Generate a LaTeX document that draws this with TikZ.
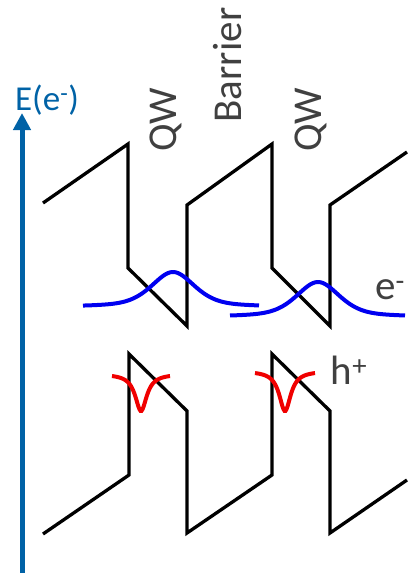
\documentclass[tikz,border=0pt]{standalone}
\usepackage{fontspec}
\setmainfont{Carlito}
\usepackage{tikz}
\usetikzlibrary{arrows.meta}
\definecolor{AxisBlue}  {HTML}{0062A6}
\definecolor{LabelGrey} {HTML}{404040}
\definecolor{WaveBlue}  {HTML}{0000F0}
\definecolor{WaveRed}   {HTML}{F00000}

\tikzset{
  band/.style={black, line width=3.3pt},
  elwave/.style={WaveBlue, line width=4pt},
  hlwave/.style={WaveRed, line width=4pt},
  lbl/.style={text=LabelGrey, font=\fontsize{41}{48}\selectfont, inner sep=0pt},
}

\begin{document}
\begin{tikzpicture}[x=1pt, y=-1pt]
  \useasboundingbox (0,0) rectangle (407,573);
  % Conduction band: tilted barriers with QW steps down
  \draw[band] (43,203) -- (128,144) -- (128,268) -- (187,326) -- (187,205) -- (272,144) -- (272,268) -- (330,326) -- (330,205) -- (407,152);
  % Valence band: QW steps up
  \draw[band] (43,534) -- (129,475) -- (129,354) -- (187,411) -- (187,533) -- (272,475) -- (272,354) -- (330,411) -- (330,533) -- (407,480);
  % Electron wavefunctions (blue), pushed to the low side of each QW
  \draw[elwave] plot[domain=83:259, samples=90, smooth]
    (\x, {307-35*(0.5*exp(-(\x-173)*(\x-173)/900)+0.5/(1+(\x-173)*(\x-173)/729))});
  \draw[elwave] plot[domain=230:405, samples=90, smooth]
    (\x, {317-35*(0.5*exp(-(\x-318)*(\x-318)/900)+0.5/(1+(\x-318)*(\x-318)/729))});
  % Hole wavefunctions (red)
  \draw[hlwave] plot[domain=112:170, samples=60, smooth]
    (\x, {374+37/(1+(\x-141)*(\x-141)/49)});
  \draw[hlwave] plot[domain=255:315, samples=60, smooth]
    (\x, {371+40/(1+(\x-285)*(\x-285)/49)});
  % Labels
  \node[lbl, rotate=90] (qwA) at (166,120) {QW};
  \node[lbl, rotate=90] (barrier) at (228,65) {Barrier};
  \node[lbl, rotate=90] (qwB) at (311,120) {QW};
  \node[lbl] (elec) at (390,290) {e\textsuperscript{-}};
  \node[lbl] (hole) at (349,370) {h\textsuperscript{+}};
  % Energy axis
  \node[text=AxisBlue, font=\fontsize{35}{42}\selectfont, inner sep=0pt] (energy) at (47,100) {E(e\textsuperscript{-})};
  \coordinate (axisfoot) at (22,573);
  \coordinate (axistip) at (22,113);
  \draw[AxisBlue, line width=5pt, -{Triangle[length=17pt, width=17pt]}] (axisfoot) -- (axistip);
\end{tikzpicture}
\end{document}
